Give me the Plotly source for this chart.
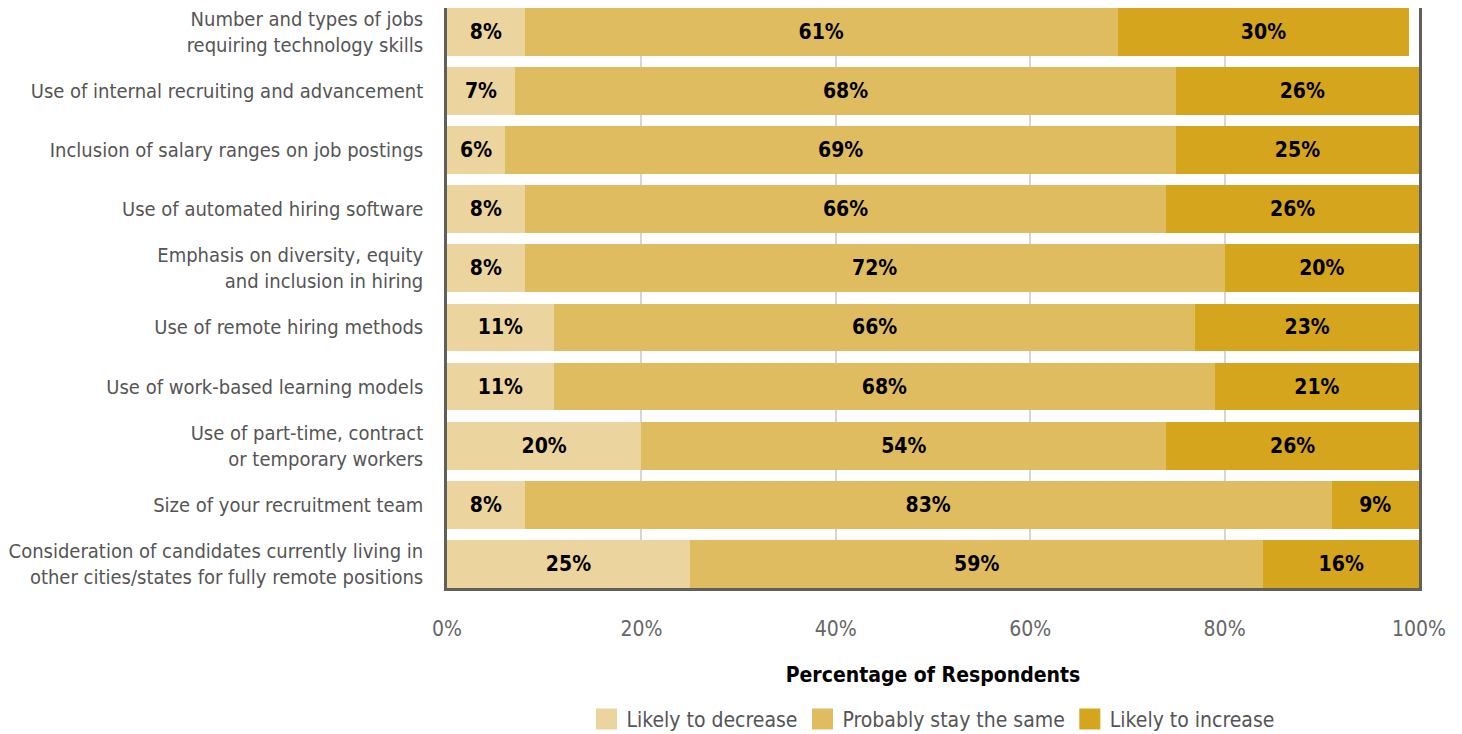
import plotly.graph_objects as go

categories = [
    "Number and types of jobs<br>requiring technology skills",
    "Use of internal recruiting and advancement",
    "Inclusion of salary ranges on job postings",
    "Use of automated hiring software",
    "Emphasis on diversity, equity<br>and inclusion in hiring",
    "Use of remote hiring methods",
    "Use of work-based learning models",
    "Use of part-time, contract<br>or temporary workers",
    "Size of your recruitment team",
    "Consideration of candidates currently living in<br>other cities/states for fully remote positions",
]
likely_decrease = [8, 7, 6, 8, 8, 11, 11, 20, 8, 25]
stay_same = [61, 68, 69, 66, 72, 66, 68, 54, 83, 59]
likely_increase = [30, 26, 25, 26, 20, 23, 21, 26, 9, 16]
tick_vals = [0, 20, 40, 60, 80, 100]
tick_text = ["0%", "20%", "40%", "60%", "80%", "100%"]

series = [
    ("Likely to decrease", likely_decrease, "#ECD49E"),
    ("Probably stay the same", stay_same, "#DFBC5F"),
    ("Likely to increase", likely_increase, "#D4A51D"),
]

FONT = "DejaVu Sans Condensed, Liberation Sans Narrow, sans-serif"

fig = go.Figure()
for name, vals, color in series:
    fig.add_trace(go.Bar(
        name=name,
        y=categories,
        x=vals,
        orientation="h",
        marker=dict(color=color, line=dict(width=0)),
        text=[f"<b>{v}%</b>" for v in vals],
        textposition="inside",
        insidetextanchor="middle",
        textfont=dict(family=FONT, size=21, color="#000000"),
        hoverinfo="skip",
        showlegend=False,
    ))

# square legend keys
for name, _, color in series:
    fig.add_trace(go.Scatter(
        name=name,
        x=[None], y=[None],
        mode="markers",
        marker=dict(symbol="square", size=16, color=color,
                    line=dict(color=color, width=5)),
        hoverinfo="skip",
        showlegend=True,
    ))

fig.update_layout(
    barmode="stack",
    bargap=0.19,
    width=1462,
    height=734,
    margin=dict(l=447, r=43, t=8, b=146),
    plot_bgcolor="white",
    paper_bgcolor="white",
    font=dict(family=FONT, size=20, color="#555555"),
    showlegend=True,
    legend=dict(
        orientation="h",
        x=0.5, xanchor="center",
        yref="container", y=0.02, yanchor="middle",
        font=dict(family=FONT, size=21, color="#555555"),
        traceorder="normal",
        itemwidth=30,
        itemsizing="trace",
    ),
    xaxis=dict(
        range=[0, 100],
        tickvals=tick_vals,
        ticktext=tick_text,
        tickfont=dict(family=FONT, size=21, color="#666666"),
        ticks="outside", ticklen=20, tickcolor="rgba(0,0,0,0)",
        showgrid=True, gridcolor="#D6D6D6", gridwidth=2,
        zeroline=False,
        showline=True, linecolor="#5F605A", linewidth=2.5,
        automargin=False,
        title=dict(text="<b>Percentage of Respondents</b>",
                   font=dict(family=FONT, size=21, color="#000000"),
                   standoff=28),
    ),
    yaxis=dict(
        categoryorder="array",
        categoryarray=categories,
        range=[9.41, -0.406],
        tickfont=dict(family=FONT, size=20, color="#555555"),
        ticks="outside", ticklen=17, tickcolor="rgba(0,0,0,0)",
        showgrid=False,
        showline=True, mirror=True, linecolor="#5F605A", linewidth=2.5,
        automargin=False,
    ),
)

fig.write_html("out.html")
